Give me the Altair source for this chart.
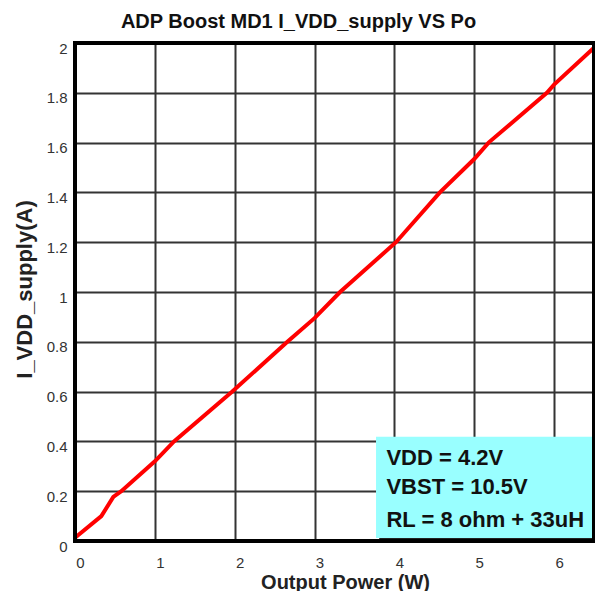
import altair as alt
import pandas as pd

# Data
po_w = [0, 0.33, 0.48, 0.58, 1.0, 1.24, 1.97, 2.66, 3.0, 3.32, 4.02, 4.57, 5.0, 5.18, 5.91, 6.0, 6.49]
i_vdd = [0.013, 0.10, 0.177, 0.2, 0.32, 0.4, 0.6, 0.8, 0.895, 1.0, 1.2, 1.4, 1.534, 1.6, 1.8, 1.833, 1.978]
x_ticks = [0, 1, 2, 3, 4, 5, 6]
y_ticks = [0, 0.2, 0.4, 0.6, 0.8, 1.0, 1.2, 1.4, 1.6, 1.8, 2.0]
note_lines = ["VDD = 4.2V", "VBST = 10.5V", "RL = 8 ohm + 33uH"]
note_y = [0.335, 0.215, 0.086]

df = pd.DataFrame({"po": po_w, "i": i_vdd})
notes = pd.DataFrame({"t": note_lines, "y": note_y, "x": [3.90] * 3})
box = pd.DataFrame({"x": [3.77], "x2": [6.48], "y": [0.012], "y2": [0.419]})
shadow = pd.DataFrame({"x": [3.81], "x2": [6.52], "y": [0.0], "y2": [0.407]})

W, H = 519, 498
xs = alt.Scale(domain=[0, 6.5], nice=False, zero=False)
ys = alt.Scale(domain=[0, 2], nice=False)

FONT = "Liberation Sans"

line = alt.Chart(df).mark_line(color="#FF0000", strokeWidth=4).encode(
    x=alt.X("po:Q", scale=xs,
            axis=alt.Axis(values=x_ticks, title="Output Power (W)", format="~g",
                          labelOffset=5, labelPadding=14, labelFontSize=15,
                          labelColor="#333333", labelFont=FONT, labelFlush=False,
                          ticks=False, tickSize=0, domain=False,
                          grid=True, gridColor="#333333", gridWidth=2,
                          titleFont=FONT, titleFontSize=20, titleFontWeight="bold",
                          titleColor="#222222", titleX=270, titleY=47,
                          titleAlign="center", titleBaseline="alphabetic")),
    y=alt.Y("i:Q", scale=ys,
            axis=alt.Axis(values=y_ticks, title="I_VDD_supply(A)", format="~g",
                          labelOffset=5, labelPadding=8, labelFontSize=15,
                          labelColor="#333333", labelFont=FONT,
                          ticks=False, tickSize=0, domain=False,
                          grid=True, gridColor="#333333", gridWidth=2,
                          titleFont=FONT, titleFontSize=22, titleFontWeight="bold",
                          titleColor="#222222", titleX=-44, titleY=246, titleAngle=270,
                          titleAlign="center", titleBaseline="alphabetic")),
)

shadow_rect = alt.Chart(shadow).mark_rect(color="#222222", clip=True).encode(
    x=alt.X("x:Q", scale=xs), x2="x2", y=alt.Y("y:Q", scale=ys), y2="y2")
box_rect = alt.Chart(box).mark_rect(color="#99FFFF").encode(
    x=alt.X("x:Q", scale=xs), x2="x2", y=alt.Y("y:Q", scale=ys), y2="y2")
text = alt.Chart(notes).mark_text(align="left", baseline="middle", font=FONT,
                                  fontSize=22, fontWeight="bold", color="#111111").encode(
    x=alt.X("x:Q", scale=xs), y=alt.Y("y:Q", scale=ys), text="t:N")

border = alt.Chart(box).mark_rect(fill=None, stroke="black", strokeWidth=4).encode(
    x=alt.value(0), x2=alt.value(W), y=alt.value(0), y2=alt.value(H))

chart = alt.layer(line, shadow_rect, box_rect, text, border).properties(
    width=W, height=H,
    title=alt.TitleParams("ADP Boost MD1 I_VDD_supply VS Po", font=FONT, fontSize=20,
                          fontWeight="bold", color="#111111", anchor="middle",
                          dx=-36, offset=-8, baseline="alphabetic"),
    autosize=alt.AutoSizeParams(type="none"),
    padding={"left": 67, "top": 35, "right": 1, "bottom": 50},
).configure_view(stroke=None).configure(background="white")

chart.save("out.html", embed_options={"renderer": "svg", "actions": False})
